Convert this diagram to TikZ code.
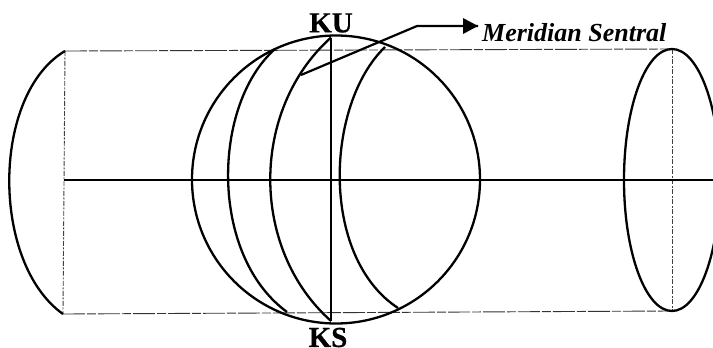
\documentclass[tikz,border=0pt]{standalone}
\usepackage{fontspec}
\usetikzlibrary{shapes.geometric}
\setmainfont[BoldFeatures={FakeBold=0.6}]{Liberation Serif}
\tikzset{
  curve/.style={line width=2.3pt,black},
  axisline/.style={line width=2.5pt,black},
  guide/.style={line width=0.9pt,black!80,dash pattern=on 22pt off 2pt on 9pt off 2pt},
  fineguide/.style={line width=0.9pt,black!75,dash pattern=on 5pt off 1.5pt on 2pt off 1.5pt},
  leader/.style={line width=2.2pt,black},
  label/.style={inner sep=0pt,font=\fontsize{29}{29}\selectfont\bfseries,text=black},
  sidelabel/.style={inner sep=0pt,anchor=west,font=\fontsize{26}{28}\selectfont\bfseries\itshape,text=black}
}
\begin{document}
\begin{tikzpicture}[x=1pt,y=-1pt]
\useasboundingbox[fill=white] (0,0) rectangle (713,348);
\clip (0,0) rectangle (713,348);
% named points
\coordinate (ku) at (331,37.5);
\coordinate (ks) at (331,321);
\coordinate (lt) at (65,51);
\coordinate (lb) at (63,314);
\coordinate (lc) at (64,180);
\coordinate (rt) at (672,49);
\coordinate (rb) at (672,311);
\coordinate (rc) at (713,180);
\coordinate (m1t) at (275,49);
\coordinate (m1b) at (287,312);
\coordinate (m3t) at (385,47);
\coordinate (m3b) at (398,308);
\coordinate (ls) at (301,75);
\coordinate (lk) at (417,26);
\coordinate (tip) at (478,26);
% guide lines
\draw[guide] (lt) -- (rt);
\draw[guide] (lb) -- (rb);
\draw[fineguide] (lt) -- (lb);
\draw[fineguide] (rt) -- (rb);
% axis
\draw[axisline] (lc) -- (rc);
% globe
\node[draw,curve,circle,minimum size=288pt,inner sep=0pt] (globe) at (336,179.5) {};
\draw[curve] (ku) -- (ks);
\draw[curve] (m1t) .. controls (212,105) and (209,255) .. (m1b);
\draw[curve] (ku) .. controls (250,110) and (250,249) .. (ks);
\draw[curve] (m3t) .. controls (325,105) and (320,257) .. (m3b);
% side shapes
\draw[curve] (lt) .. controls (-9,95) and (-9,263) .. (lb);
\node[draw,curve,ellipse,minimum width=96pt,minimum height=262pt,inner sep=0pt] (disc) at (672,180) {};
% leader
\node[sidelabel] (ms) at (482,33) {Meridian Sentral};
\draw[leader] (ls) -- (lk) -- (tip);
\fill (tip) -- (463,18) -- (463,34) -- cycle;
% labels
\node[label] (kun) at (331,23) {KU};
\node[label] (ksn) at (328,337.5) {KS};
\end{tikzpicture}
\end{document}
